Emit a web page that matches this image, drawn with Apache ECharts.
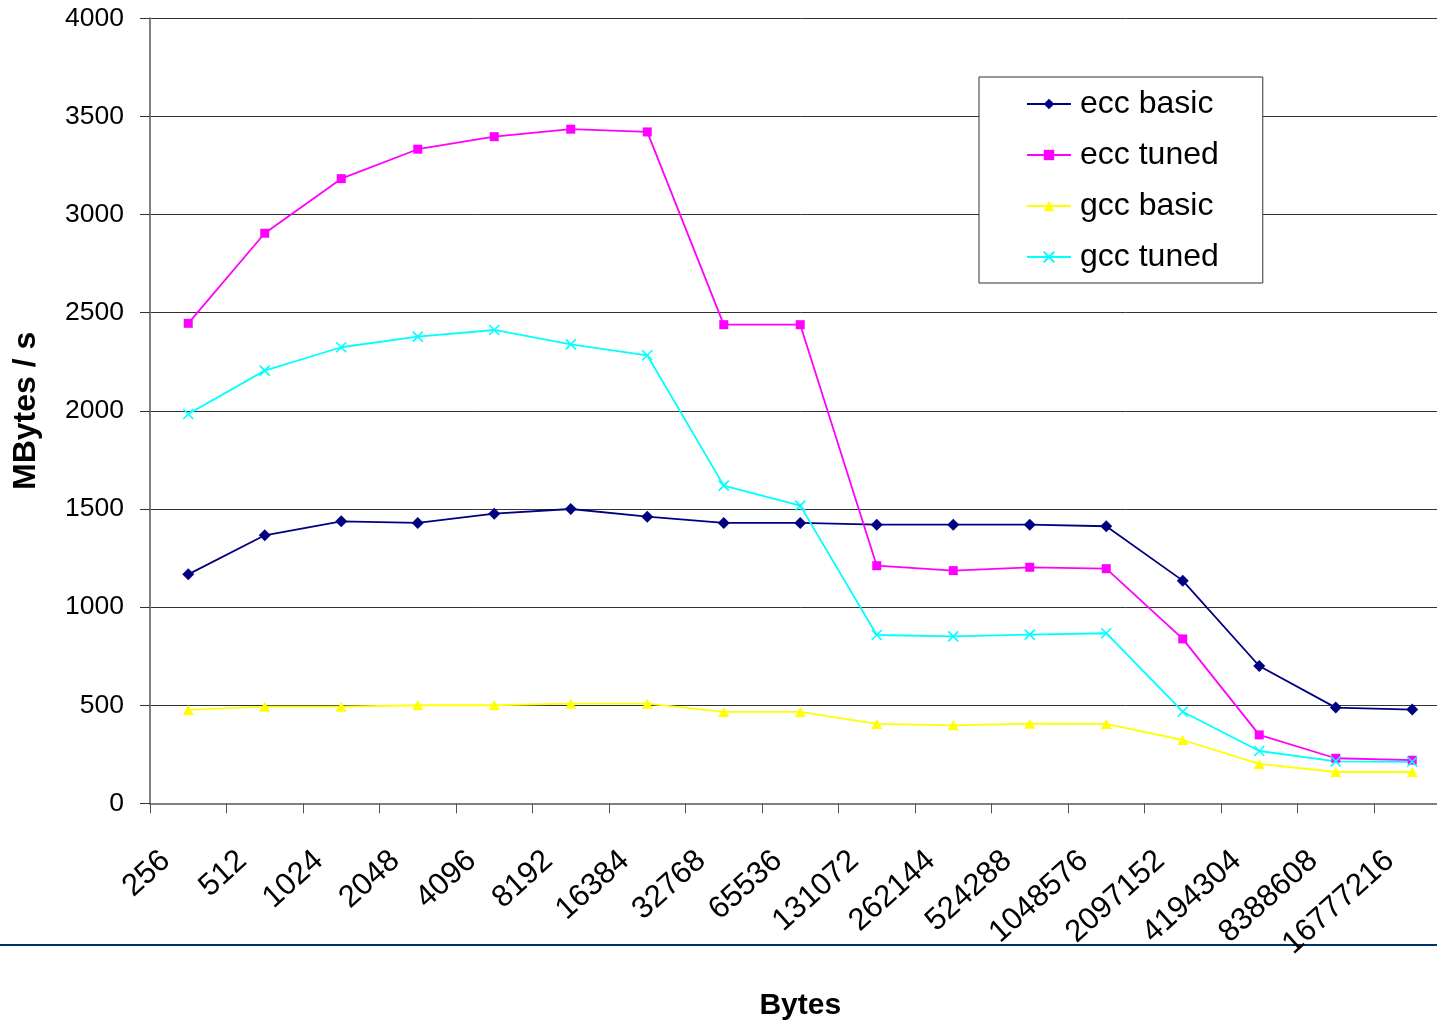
<!DOCTYPE html>
<html>
<head>
<meta charset="utf-8">
<script src="https://cdn.jsdelivr.net/npm/echarts@6/dist/echarts.min.js"></script>
<style>
html,body{margin:0;padding:0;background:#fff;overflow:hidden;width:1437px;height:1027px;}
#chart{width:1451px;height:1027px;}
</style>
</head>
<body>
<div id="chart"></div>
<script>
const categories = ['256','512','1024','2048','4096','8192','16384','32768','65536','131072','262144','524288','1048576','2097152','4194304','8388608','16777216'];
const eccBasic = [1167, 1366, 1437, 1429, 1476, 1500, 1461, 1429, 1429, 1420, 1420, 1420, 1412, 1135, 700, 488, 478];
const eccTuned = [2446, 2905, 3183, 3333, 3397, 3435, 3421, 2439, 2439, 1211, 1186, 1203, 1196, 838, 349, 230, 220];
const gccBasic = [476, 493, 493, 500, 500, 508, 508, 466, 466, 405, 398, 406, 405, 323, 201, 160, 160];
const gccTuned = [1984, 2205, 2324, 2378, 2412, 2339, 2283, 1619, 1517, 858, 851, 860, 867, 467, 267, 214, 212];
const seriesNames = ['ecc basic', 'ecc tuned', 'gcc basic', 'gcc tuned'];
const yTicks = [0, 500, 1000, 1500, 2000, 2500, 3000, 3500, 4000];

const FONT = '"Liberation Sans", Arial, sans-serif';
const chart = echarts.init(document.getElementById('chart'), null, {renderer: 'canvas'});

function lineSeries(name, data, color, symbol, size, extra) {
  return Object.assign({
    name: name,
    type: 'line',
    data: data,
    symbol: symbol,
    symbolSize: size,
    showAllSymbol: true,
    lineStyle: {color: color, width: 1.8},
    itemStyle: {color: color},
    emphasis: {disabled: true},
    z: 3
  }, extra || {});
}

chart.setOption({
  animation: false,
  backgroundColor: '#fff',
  textStyle: {fontFamily: FONT},
  grid: {left: 150, top: 18.3, right: 0.5, bottom: 223.6, containLabel: false, outerBoundsMode: 'none'},
  legend: {
    data: seriesNames,
    orient: 'vertical',
    left: 979,
    top: 77,
    padding: [11, 44, 10, 47],
    itemGap: 19,
    itemWidth: 44,
    itemHeight: 13,
    backgroundColor: '#fff',
    borderColor: '#333',
    borderWidth: 1,
    selectedMode: false,
    textStyle: {fontFamily: FONT, fontSize: 32, lineHeight: 32, color: '#000', padding: [0, 0, 0, 4]}
  },
  xAxis: {
    type: 'category',
    data: categories,
    boundaryGap: true,
    name: 'Bytes',
    nameLocation: 'middle',
    nameGap: 187,
    nameTextStyle: {fontFamily: FONT, fontSize: 30, fontWeight: 'bold', color: '#000'},
    axisLine: {lineStyle: {color: '#808080', width: 2}},
    axisTick: {show: true, length: 10, inside: false, lineStyle: {color: '#555', width: 1}},
    axisLabel: {
      interval: 0,
      rotate: 42,
      margin: 33,
      fontFamily: FONT,
      fontSize: 31,
      color: '#000',
      padding: [0, 30, 0, 0]
    },
    splitLine: {show: false}
  },
  yAxis: {
    type: 'value',
    min: yTicks[0],
    max: yTicks[yTicks.length - 1],
    interval: 500,
    name: 'MBytes / s',
    nameLocation: 'middle',
    nameGap: 108,
    nameTextStyle: {fontFamily: FONT, fontSize: 32, fontWeight: 'bold', fontStyle: 'normal', color: '#000'},
    axisLine: {show: true, lineStyle: {color: '#808080', width: 2}},
    axisTick: {show: true, length: 10, inside: false, lineStyle: {color: '#333', width: 1}},
    axisLabel: {margin: 26, fontFamily: FONT, fontSize: 26.5, color: '#000', formatter: function (v) { return String(v); }},
    splitLine: {show: true, lineStyle: {color: '#333', width: 1}}
  },
  graphic: [{
    type: 'rect',
    left: 0,
    top: 944,
    shape: {width: 1451, height: 2},
    style: {fill: '#003366'},
    silent: true
  }],
  series: [
    lineSeries(seriesNames[0], eccBasic, '#000080', 'diamond', [12, 12]),
    lineSeries(seriesNames[1], eccTuned, '#FF00FF', 'rect', [9, 9]),
    lineSeries(seriesNames[2], gccBasic, '#FFFF00', 'triangle', [11, 10]),
    lineSeries(seriesNames[3], gccTuned, '#00FFFF', 'path://M0,0 L10,10 M10,0 L0,10', [10, 10], {
      itemStyle: {color: '#00FFFF', borderColor: '#00FFFF', borderWidth: 1.6}
    })
  ]
});
</script>
</body>
</html>
